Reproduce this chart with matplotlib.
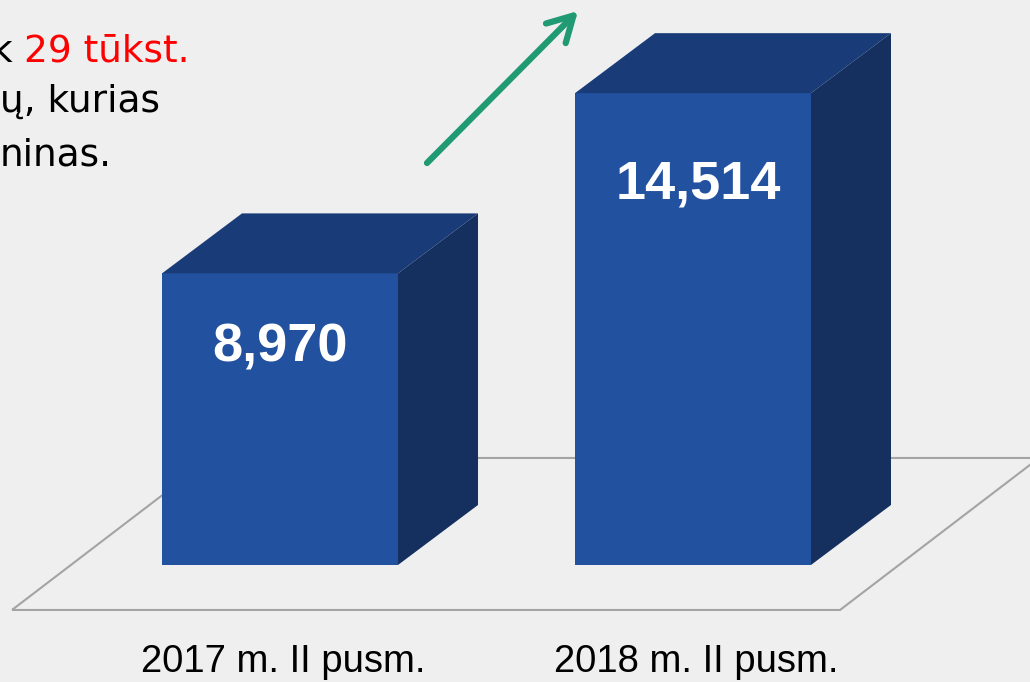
import matplotlib
matplotlib.use("Agg")
import matplotlib.pyplot as plt
from matplotlib.patches import Polygon

# data
categories = ["2017 m. II pusm.", "2018 m. II pusm."]
values = [8970, 14514]
value_labels = ["8,970", "14,514"]

# colours
bg = "#efefef"
c_front = "#2251a0"
c_top = "#193c78"
c_side = "#15305f"
c_floor = "#a4a4a4"
c_arrow = "#1f9a72"

W, H = 1030, 682
fig = plt.figure(figsize=(W / 100, H / 100), dpi=100, facecolor=bg)
ax = fig.add_axes([0, 0, 1, 1])
ax.set_facecolor(bg)
ax.set_xlim(-0.678, 1.816)
ax.set_ylim(-3600, 17380)
ax.axis("off")

# px -> data helpers (layout only)
px_x = (1.816 + 0.678) / W
px_y = (17380 + 3600) / H

bw = 236 * px_x          # bar width
ddx = 80 * px_x          # depth offset
ddy = 60 * px_y

# floor parallelogram
fl_x0, fl_x1 = -0.649, 1.356
fl_y0 = -45 * px_y
fsx, fsy = 199 * px_x, 152 * px_y
floor = Polygon([(fl_x0, fl_y0), (fl_x1, fl_y0), (fl_x1 + fsx, fl_y0 + fsy),
                 (fl_x0 + fsx, fl_y0 + fsy)], closed=True, fill=False,
                edgecolor=c_floor, lw=1.5, zorder=1)
ax.add_patch(floor)

xs = list(range(len(categories)))
ax.bar(xs, values, width=bw, color=c_front, zorder=3)
for x, v in zip(xs, values):
    l, r = x - bw / 2, x + bw / 2
    top = Polygon([(l, v), (r, v), (r + ddx, v + ddy), (l + ddx, v + ddy)],
                  closed=True, facecolor=c_top, edgecolor="none", zorder=3)
    side = Polygon([(r, 0), (r + ddx, ddy), (r + ddx, v + ddy), (r, v)],
                   closed=True, facecolor=c_side, edgecolor="none", zorder=3)
    ax.add_patch(top)
    ax.add_patch(side)

label_drop = [74, 91]
label_shift = [0, 5]
for x, v, s, d, sh in zip(xs, values, value_labels, label_drop, label_shift):
    ax.annotate(s, (x, v), xytext=(sh, -d), textcoords="offset pixels",
                ha="center", va="center", color="white", fontsize=39,
                fontweight="bold", family="Liberation Sans", zorder=5)

for x, c in zip(xs, categories):
    ax.annotate(c, (x, 0), xytext=(3, -97), textcoords="offset pixels",
                ha="center", va="center", color="black", fontsize=27.5,
                family="Liberation Sans")

# growth arrow
ax.annotate("", xy=(578, H - 11), xytext=(427, H - 163),
            xycoords="figure pixels", textcoords="figure pixels",
            arrowprops=dict(arrowstyle="->,head_length=0.45,head_width=0.25",
                            color=c_arrow, lw=4.5, mutation_scale=40,
                            shrinkA=0, shrinkB=0))

# cropped text at top-left
tk = dict(fontsize=27, family="DejaVu Sans", va="baseline")
fig.text(12 / W, 1 - 62 / H, "k", color="black", ha="right", **tk)
fig.text(24 / W, 1 - 62 / H, "29 tūkst.", color="#ff0000", ha="left", **tk)
fig.text(0 / W, 1 - 112 / H, "ų, kurias", color="black", ha="left", **tk)
fig.text(0 / W, 1 - 165 / H, "ninas.", color="black", ha="left", **tk)

fig.savefig("out.png", dpi=100, facecolor=bg)
